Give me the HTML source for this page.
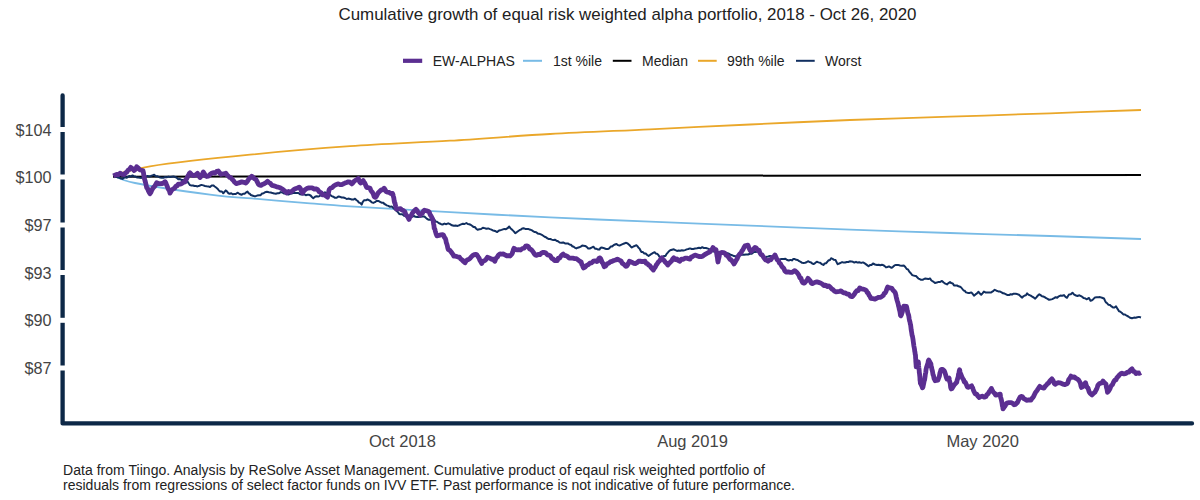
<!DOCTYPE html>
<html><head><meta charset="utf-8"><style>
html,body{margin:0;padding:0;background:#fff;width:1200px;height:500px;overflow:hidden}
svg{display:block;font-family:"Liberation Sans",sans-serif}
</style></head><body>
<svg width="1200" height="500" viewBox="0 0 1200 500">
<rect width="1200" height="500" fill="#fff"/>
<text x="627.5" y="20.2" text-anchor="middle" font-size="17" textLength="578" lengthAdjust="spacingAndGlyphs" fill="#222">Cumulative growth of equal risk weighted alpha portfolio, 2018 - Oct 26, 2020</text>
<line x1="403.0" y1="60.8" x2="422.2" y2="60.8" stroke="#5b2e91" stroke-width="4.2"/>
<text x="432.7" y="66" font-size="14" fill="#222">EW-ALPHAS</text>
<line x1="523.0" y1="60.8" x2="542.0" y2="60.8" stroke="#78bbe6" stroke-width="2"/>
<text x="553.0" y="66" font-size="14" fill="#222">1st %ile</text>
<line x1="612.8" y1="60.8" x2="631.5" y2="60.8" stroke="#000" stroke-width="2"/>
<text x="642.0" y="66" font-size="14" fill="#222">Median</text>
<line x1="698.0" y1="60.8" x2="716.7" y2="60.8" stroke="#eaa72a" stroke-width="2"/>
<text x="727.0" y="66" font-size="14" fill="#222">99th %ile</text>
<line x1="796.0" y1="60.8" x2="814.7" y2="60.8" stroke="#112f60" stroke-width="2"/>
<text x="825.0" y="66" font-size="14" fill="#222">Worst</text>
<path d="M62.6,95.5 L62.6,423.4 L1192,423.4" fill="none" stroke="#0d2847" stroke-width="4.3" stroke-linecap="round" stroke-linejoin="round"/>
<rect x="58" y="127.0" width="9" height="5" fill="#fff"/>
<text x="51.5" y="135.6" text-anchor="end" font-size="16.2" fill="#444">$104</text>
<rect x="58" y="174.5" width="9" height="5" fill="#fff"/>
<text x="51.5" y="183.1" text-anchor="end" font-size="16.2" fill="#444">$100</text>
<rect x="58" y="222.5" width="9" height="5" fill="#fff"/>
<text x="51.5" y="231.1" text-anchor="end" font-size="16.2" fill="#444">$97</text>
<rect x="58" y="270.0" width="9" height="5" fill="#fff"/>
<text x="51.5" y="278.6" text-anchor="end" font-size="16.2" fill="#444">$93</text>
<rect x="58" y="317.8" width="9" height="5" fill="#fff"/>
<text x="51.5" y="326.4" text-anchor="end" font-size="16.2" fill="#444">$90</text>
<rect x="58" y="365.5" width="9" height="5" fill="#fff"/>
<text x="51.5" y="374.1" text-anchor="end" font-size="16.2" fill="#444">$87</text>
<text x="402.5" y="446.8" text-anchor="middle" font-size="16.5" fill="#444">Oct 2018</text>
<text x="692.5" y="446.8" text-anchor="middle" font-size="16.5" fill="#444">Aug 2019</text>
<text x="982.7" y="446.8" text-anchor="middle" font-size="16.5" fill="#444">May 2020</text>
<path d="M113.0,175.5 C119.2,174.0 127.2,169.8 150.0,166.3 C172.8,162.8 216.7,158.0 250.0,154.7 C283.3,151.3 316.7,148.5 350.0,146.2 C383.3,143.9 416.7,142.7 450.0,140.7 C483.3,138.7 516.7,135.9 550.0,134.0 C583.3,132.1 616.7,130.9 650.0,129.3 C683.3,127.7 716.7,126.0 750.0,124.5 C783.3,123.0 816.7,121.3 850.0,120.0 C883.3,118.7 916.7,117.8 950.0,116.7 C983.3,115.6 1018.2,114.4 1050.0,113.3 C1081.8,112.2 1125.8,110.5 1141.0,110.0" fill="none" stroke="#eaa72a" stroke-width="1.8"/>
<path d="M113.0,175.0 C116.7,176.3 118.8,179.7 135.0,183.0 C151.2,186.3 189.2,191.9 210.0,194.6 C230.8,197.3 243.3,197.8 260.0,199.2 C276.7,200.6 295.0,202.1 310.0,203.3 C325.0,204.5 326.7,204.8 350.0,206.3 C373.3,207.8 416.7,210.3 450.0,212.2 C483.3,214.0 516.7,215.8 550.0,217.4 C583.3,219.0 616.7,220.2 650.0,221.6 C683.3,223.0 716.7,224.3 750.0,225.6 C783.3,226.9 816.7,228.4 850.0,229.6 C883.3,230.8 916.7,231.9 950.0,233.0 C983.3,234.1 1018.2,235.0 1050.0,236.0 C1081.8,237.0 1125.8,238.5 1141.0,239.0" fill="none" stroke="#78bbe6" stroke-width="1.8"/>
<path d="M113.0,176.7 L1141.0,175.0" fill="none" stroke="#000" stroke-width="2"/>
<path d="M115.0,176.7 L116.5,176.8 L118.0,177.6 L119.5,177.8 L121.0,178.5 L122.5,178.9 L123.9,177.8 L125.4,177.2 L126.8,177.7 L128.2,176.5 L129.6,176.0 L131.1,176.5 L132.5,175.4 L133.9,176.4 L135.4,176.6 L136.9,177.4 L138.3,177.5 L139.8,177.8 L141.3,177.9 L142.8,177.2 L144.3,177.2 L145.8,176.9 L147.5,175.9 L149.2,176.5 L150.8,176.0 L152.5,175.4 L154.2,174.8 L155.7,176.3 L157.2,176.2 L158.7,176.9 L160.2,177.5 L161.7,177.8 L163.4,177.8 L165.0,177.0 L166.7,177.2 L168.4,176.6 L170.0,177.0 L171.7,176.7 L173.4,176.4 L175.0,177.0 L176.7,177.7 L178.3,179.2 L180.0,179.1 L181.5,179.9 L183.0,180.0 L184.5,180.7 L186.0,181.1 L187.5,181.5 L188.8,183.5 L190.0,185.1 L191.5,185.6 L193.0,185.5 L194.5,186.0 L196.0,186.1 L197.5,186.4 L199.4,185.7 L201.4,184.9 L203.3,185.4 L205.0,186.0 L206.7,186.3 L208.3,186.4 L210.0,187.0 L211.7,185.5 L213.3,185.4 L214.7,186.5 L216.1,187.5 L217.5,188.7 L218.9,190.5 L220.4,191.6 L221.9,191.5 L223.3,193.3 L224.6,191.7 L225.8,190.4 L227.1,191.6 L228.3,193.2 L229.8,193.8 L231.2,193.2 L232.7,194.3 L234.2,194.1 L235.8,194.0 L237.5,192.7 L239.6,194.0 L241.7,194.8 L243.1,193.7 L244.6,193.7 L246.1,192.4 L247.5,191.6 L248.6,193.3 L249.7,193.7 L250.8,195.0 L252.9,195.7 L255.0,196.4 L257.1,195.6 L259.2,195.3 L260.6,195.2 L262.1,193.5 L263.6,193.3 L265.0,192.2 L266.9,191.8 L268.9,192.2 L270.8,192.5 L272.5,193.1 L274.1,193.4 L275.8,193.8 L277.5,193.3 L279.1,193.2 L280.8,192.1 L282.3,192.5 L283.8,193.4 L285.2,193.4 L286.7,194.0 L288.4,194.6 L290.0,193.8 L291.7,193.6 L293.4,192.7 L295.0,193.0 L296.7,193.0 L298.4,193.0 L300.0,194.3 L301.9,194.6 L303.9,194.2 L305.8,195.2 L307.5,194.8 L309.2,194.8 L310.6,195.5 L311.9,197.0 L313.3,198.2 L315.0,196.8 L316.6,196.3 L318.3,196.5 L319.6,196.1 L321.0,194.5 L322.3,193.9 L323.7,193.4 L325.0,192.3 L326.7,193.2 L328.3,193.9 L330.0,194.8 L331.7,196.1 L333.3,196.7 L335.0,197.8 L336.7,197.8 L338.3,196.5 L340.0,196.8 L341.7,197.5 L343.3,197.5 L345.0,198.0 L346.7,199.0 L348.4,198.6 L350.0,198.9 L351.7,199.5 L353.4,199.6 L355.0,198.7 L356.3,200.0 L357.7,201.0 L359.0,202.6 L360.4,203.1 L361.7,204.6 L362.5,202.4 L363.4,201.2 L364.2,200.2 L365.9,200.3 L367.5,199.5 L368.9,200.2 L370.4,201.0 L371.9,202.4 L373.3,202.9 L375.0,202.2 L376.7,200.8 L378.4,200.9 L380.0,201.8 L381.6,202.7 L383.3,202.7 L384.4,204.0 L385.6,204.5 L386.7,205.4 L388.4,205.9 L390.0,206.8 L391.7,206.4 L393.4,208.0 L395.0,209.6 L396.4,210.8 L397.8,212.0 L399.2,213.9 L400.6,214.2 L402.3,214.3 L404.0,215.7 L405.6,215.9 L407.3,216.3 L409.0,215.9 L410.6,216.7 L412.3,216.7 L413.9,216.0 L415.5,216.8 L417.2,217.0 L418.8,216.9 L420.7,216.7 L422.5,216.4 L424.4,216.5 L425.8,217.8 L427.2,219.0 L428.9,219.8 L430.7,219.6 L432.4,220.4 L434.2,219.7 L435.6,221.4 L437.0,221.8 L438.4,222.8 L439.8,223.5 L441.2,224.2 L442.6,224.5 L444.5,223.6 L446.3,224.2 L448.2,223.3 L450.1,224.2 L451.9,225.3 L453.8,225.8 L455.7,225.5 L457.5,225.9 L459.4,225.2 L461.1,224.4 L462.9,223.8 L464.6,224.0 L466.4,223.0 L467.8,224.0 L469.2,224.2 L470.6,224.7 L472.0,225.8 L473.4,226.9 L474.8,227.0 L476.2,228.7 L477.6,229.8 L479.4,229.3 L481.1,229.0 L482.9,227.7 L484.6,228.1 L486.4,228.8 L488.2,228.4 L490.0,229.1 L491.4,229.6 L492.9,230.4 L494.3,230.7 L495.8,231.3 L497.2,232.1 L498.6,230.7 L500.1,230.3 L501.5,229.9 L503.0,229.4 L504.4,228.9 L506.0,229.2 L507.6,228.2 L509.2,226.5 L510.4,228.2 L511.6,229.2 L512.8,230.4 L514.0,231.6 L515.2,233.2 L516.6,232.3 L518.0,231.2 L519.4,230.2 L520.8,229.6 L522.2,228.5 L523.6,228.3 L525.3,228.9 L527.0,229.0 L528.6,229.1 L530.3,229.7 L532.0,230.4 L533.4,231.3 L534.8,232.1 L536.2,232.3 L537.6,233.4 L539.0,233.7 L540.4,234.1 L541.8,234.8 L543.2,235.8 L544.6,236.8 L546.0,237.3 L547.4,238.4 L548.8,239.0 L550.3,239.0 L551.8,239.6 L553.3,240.1 L554.8,239.7 L556.4,240.7 L558.0,241.3 L559.6,242.5 L561.4,242.8 L563.2,242.4 L565.0,243.4 L566.8,243.5 L568.2,243.6 L569.5,244.5 L570.9,244.8 L572.3,246.3 L573.7,246.8 L575.0,247.8 L576.4,248.4 L577.8,247.7 L579.3,247.3 L580.7,246.6 L582.2,245.6 L583.6,245.7 L585.1,245.9 L586.7,246.9 L588.2,248.5 L589.8,248.5 L591.6,247.6 L593.4,246.7 L595.0,248.7 L596.6,248.8 L598.2,249.6 L599.4,249.6 L600.6,247.7 L601.8,247.6 L603.3,247.9 L604.8,248.5 L606.3,249.1 L607.8,249.1 L609.2,248.4 L610.7,246.5 L612.1,246.4 L613.6,245.2 L615.0,244.5 L616.5,244.0 L618.0,245.1 L619.5,245.6 L621.0,244.9 L622.6,244.2 L624.2,243.5 L625.8,242.8 L627.0,243.1 L628.2,243.9 L629.4,245.0 L630.6,246.4 L631.8,247.5 L633.4,246.5 L635.0,245.8 L636.6,245.3 L637.6,246.4 L638.5,247.7 L639.5,248.5 L640.4,250.2 L641.4,252.0 L642.8,252.1 L644.3,253.4 L645.7,253.5 L647.2,255.0 L648.6,255.9 L650.1,254.9 L651.6,253.8 L653.1,252.9 L654.6,252.2 L655.8,253.6 L657.0,253.7 L658.2,254.8 L659.4,256.6 L660.6,257.9 L662.2,256.8 L663.8,256.1 L665.4,255.9 L666.6,253.9 L667.8,252.6 L669.0,251.2 L670.2,250.3 L672.0,249.7 L673.8,249.3 L675.4,250.2 L677.0,250.9 L678.6,250.6 L680.2,250.8 L681.8,250.3 L683.4,250.6 L685.0,250.1 L686.7,249.4 L688.3,249.0 L690.0,248.4 L691.7,249.0 L693.3,248.9 L695.0,248.6 L697.0,248.3 L699.0,247.8 L700.7,248.2 L702.3,247.2 L704.0,248.1 L706.0,248.0 L708.0,248.6 L709.7,249.3 L711.3,250.6 L713.0,251.4 L714.7,251.4 L716.3,251.6 L718.0,252.3 L719.6,252.6 L721.2,252.3 L722.8,252.9 L724.4,253.4 L726.0,253.0 L727.5,253.2 L729.0,253.7 L730.5,254.8 L732.0,255.2 L734.0,256.1 L736.0,256.4 L737.5,255.4 L739.0,255.1 L740.5,255.0 L742.0,254.6 L744.0,254.7 L746.0,254.4 L748.0,254.5 L750.0,253.7 L751.7,253.8 L753.3,252.4 L755.0,251.9 L757.0,251.8 L759.0,250.5 L760.0,251.7 L761.0,253.7 L762.0,254.3 L763.0,255.5 L764.0,256.9 L765.0,258.2 L766.7,256.7 L768.3,256.5 L770.0,255.9 L772.0,256.5 L774.0,256.7 L775.4,257.8 L776.7,259.0 L778.0,259.0 L779.4,260.0 L780.9,259.1 L782.3,258.9 L783.8,258.9 L785.4,258.7 L787.1,260.0 L788.8,260.5 L790.4,259.9 L791.9,260.4 L793.3,259.1 L794.8,259.1 L796.3,259.8 L797.7,260.0 L799.2,261.2 L800.7,261.9 L802.1,262.8 L803.6,262.9 L805.1,262.8 L806.5,262.3 L808.0,261.2 L809.4,261.9 L810.8,262.2 L812.1,263.4 L813.5,264.1 L815.1,263.1 L816.8,261.7 L818.4,262.4 L820.1,262.8 L821.8,264.1 L823.4,265.0 L824.7,263.4 L826.0,263.3 L827.2,262.0 L828.5,260.3 L829.8,260.3 L831.1,258.3 L832.6,258.9 L834.0,259.8 L835.5,260.0 L836.2,261.4 L837.0,263.0 L837.7,264.2 L839.2,263.5 L840.6,262.8 L842.1,262.1 L843.6,262.6 L845.2,262.5 L846.7,262.0 L848.3,262.0 L849.8,261.3 L851.3,261.4 L852.9,261.8 L854.4,262.6 L856.0,261.8 L857.5,262.6 L859.3,262.3 L861.2,262.9 L863.0,262.4 L864.4,263.2 L865.8,264.1 L867.1,265.1 L868.5,266.2 L870.0,265.1 L871.5,265.0 L873.0,263.5 L875.0,264.5 L877.0,265.0 L878.7,264.7 L880.3,265.2 L882.0,264.8 L883.3,265.1 L884.7,266.1 L886.0,267.4 L887.5,267.0 L889.0,266.4 L891.5,267.8 L893.0,266.8 L894.5,265.4 L896.0,264.9 L898.0,264.9 L900.0,265.5 L902.0,265.8 L904.0,265.6 L905.3,267.0 L906.7,269.0 L908.0,269.4 L909.5,271.9 L911.0,273.5 L912.0,274.8 L913.0,275.4 L914.5,275.8 L916.0,276.1 L917.2,277.2 L918.5,278.6 L919.8,279.2 L921.0,279.8 L923.0,279.7 L925.0,278.5 L926.7,278.8 L928.3,279.1 L930.0,278.4 L931.2,280.3 L932.5,281.2 L933.8,282.0 L935.0,283.0 L936.8,282.6 L938.5,281.9 L940.2,281.9 L942.0,280.9 L943.7,282.5 L945.3,283.7 L947.0,284.4 L948.5,283.1 L950.0,282.1 L951.3,283.1 L952.7,283.4 L954.0,285.4 L955.5,285.6 L957.0,285.5 L958.5,286.3 L960.0,286.7 L961.2,287.5 L962.4,289.0 L963.6,290.5 L964.8,290.8 L966.0,292.4 L967.8,292.9 L969.5,293.0 L971.3,292.4 L972.6,293.7 L974.0,295.7 L975.5,294.4 L977.0,293.4 L978.5,291.8 L979.9,293.5 L981.2,294.8 L982.5,293.4 L983.9,291.5 L985.4,292.4 L986.9,292.5 L988.4,292.5 L991.1,292.5 L992.3,291.6 L993.5,290.8 L994.7,289.8 L996.5,290.7 L998.3,291.4 L1000.1,291.6 L1001.6,292.3 L1003.1,293.3 L1004.6,293.6 L1006.1,294.3 L1007.6,295.1 L1009.1,295.1 L1010.6,294.2 L1012.1,294.5 L1013.6,293.7 L1015.4,293.7 L1017.2,294.1 L1019.0,294.8 L1020.6,296.4 L1022.2,297.6 L1023.4,296.3 L1024.7,295.5 L1025.9,295.2 L1027.1,293.4 L1028.9,294.9 L1030.7,295.7 L1032.2,296.7 L1033.7,297.5 L1035.2,298.7 L1036.6,297.1 L1037.9,295.5 L1039.3,294.3 L1040.6,295.1 L1042.0,296.2 L1043.3,296.5 L1044.7,297.1 L1046.2,298.2 L1047.6,298.8 L1049.1,299.8 L1050.5,299.6 L1052.3,299.1 L1054.1,298.2 L1055.7,297.2 L1057.2,297.8 L1058.8,296.3 L1060.4,295.6 L1062.2,295.8 L1064.0,295.1 L1065.5,296.9 L1067.0,297.8 L1068.0,296.0 L1069.0,294.5 L1070.8,294.3 L1072.5,292.7 L1074.2,294.6 L1076.0,295.5 L1077.5,296.0 L1079.0,295.3 L1080.5,295.9 L1082.0,296.7 L1083.5,297.9 L1085.0,298.2 L1086.5,299.3 L1089.0,298.0 L1090.5,300.7 L1092.0,300.2 L1093.5,298.9 L1095.0,297.4 L1096.7,297.3 L1098.3,297.2 L1100.0,297.1 L1102.0,297.7 L1104.0,298.5 L1105.0,300.7 L1106.0,302.5 L1107.0,303.1 L1108.5,304.8 L1110.0,305.0 L1111.5,306.4 L1113.0,307.5 L1114.5,307.5 L1116.0,306.4 L1117.0,308.0 L1118.0,309.6 L1119.0,311.3 L1120.0,311.5 L1121.7,312.8 L1123.3,314.4 L1125.0,314.5 L1126.7,315.7 L1128.3,316.5 L1130.0,317.7 L1132.0,318.3 L1134.0,317.6 L1135.7,317.8 L1137.3,317.3 L1139.0,316.9 L1141.0,317.5" fill="none" stroke="#112f60" stroke-width="2" stroke-linejoin="round"/>
<path d="M113.3,176.0 L115.0,175.2 L116.7,174.4 L118.3,174.7 L120.0,173.2 L122.1,174.4 L124.2,174.6 L125.5,172.8 L126.8,172.1 L128.2,170.0 L129.5,169.3 L130.8,167.4 L132.5,168.7 L134.2,170.5 L135.4,169.5 L136.7,166.7 L138.3,168.1 L140.0,170.0 L142.9,170.5 L143.2,171.6 L143.5,172.9 L143.8,175.5 L144.1,175.7 L144.4,178.7 L144.7,179.4 L145.0,180.8 L145.6,182.8 L146.1,185.0 L146.7,187.8 L147.5,188.4 L148.3,190.7 L149.2,192.5 L150.0,193.7 L150.8,192.5 L151.7,190.3 L152.5,188.8 L153.3,187.6 L154.4,186.7 L155.6,184.7 L156.7,182.8 L158.4,183.5 L160.0,183.6 L161.7,183.6 L163.3,183.1 L165.0,181.7 L165.7,182.5 L166.4,184.6 L167.1,186.1 L167.9,188.2 L168.6,189.6 L169.3,190.4 L170.0,193.1 L171.7,190.0 L173.3,188.8 L174.6,188.3 L175.8,186.3 L177.1,185.8 L178.3,184.1 L180.0,184.2 L181.7,183.5 L183.3,182.4 L185.0,182.0 L185.8,179.6 L186.7,178.7 L187.5,177.0 L188.3,175.5 L189.2,173.7 L190.0,172.8 L191.7,174.7 L193.3,175.6 L195.4,175.0 L197.5,173.2 L198.8,175.9 L200.0,177.5 L201.1,176.4 L202.2,174.5 L203.3,172.0 L204.4,173.8 L205.6,175.9 L206.7,176.5 L208.4,176.1 L210.0,174.5 L211.7,173.3 L213.3,172.6 L215.0,173.1 L216.7,171.4 L218.3,171.0 L219.4,172.4 L220.6,174.3 L221.7,174.1 L223.8,173.9 L225.8,173.2 L227.1,175.0 L228.3,176.1 L229.6,177.4 L230.8,177.7 L232.1,179.2 L233.3,180.4 L234.7,182.3 L236.1,183.5 L237.5,183.3 L239.6,182.6 L241.7,181.9 L243.8,182.3 L245.8,183.1 L247.0,181.9 L248.2,180.0 L249.3,178.3 L250.5,177.6 L251.7,176.2 L253.1,177.3 L254.4,178.8 L255.8,179.2 L256.6,180.6 L257.5,182.4 L258.4,184.2 L259.2,184.9 L260.9,185.4 L262.5,184.4 L264.2,183.7 L265.8,182.7 L267.5,181.2 L268.9,182.5 L270.4,183.3 L271.9,185.4 L273.3,185.7 L275.0,186.1 L276.6,186.8 L278.3,187.1 L280.0,187.8 L281.3,188.4 L282.7,189.3 L284.0,190.5 L285.4,191.5 L286.7,192.9 L288.6,191.5 L290.6,192.0 L292.5,190.8 L294.2,189.2 L295.9,188.6 L297.5,187.9 L299.2,187.1 L300.3,188.4 L301.4,191.2 L302.5,193.1 L303.8,191.0 L305.0,189.8 L306.7,188.6 L308.3,188.0 L310.0,187.8 L312.1,187.9 L314.2,189.0 L315.9,188.8 L317.5,189.4 L319.2,191.7 L320.3,192.3 L321.4,193.0 L322.5,194.9 L324.2,194.6 L325.8,195.9 L327.5,197.2 L327.9,195.3 L328.4,193.4 L328.8,191.1 L329.2,189.6 L330.6,188.0 L332.1,187.7 L333.6,186.1 L335.0,185.2 L336.7,184.3 L338.4,183.9 L340.0,184.6 L341.7,184.7 L343.4,183.8 L345.0,183.1 L346.6,182.5 L348.3,181.8 L350.0,182.2 L351.7,183.9 L353.0,182.7 L354.3,181.1 L355.7,180.1 L357.0,179.5 L358.3,178.5 L359.1,180.6 L360.0,182.4 L360.8,183.0 L362.1,182.1 L363.3,180.6 L364.0,182.2 L364.7,182.9 L365.3,184.3 L366.0,186.0 L366.7,187.6 L368.4,187.6 L370.0,188.3 L370.8,190.2 L371.6,191.5 L372.5,192.4 L373.3,194.1 L374.1,196.5 L375.0,197.4 L375.8,196.9 L376.6,195.9 L377.5,194.2 L378.3,192.7 L379.8,191.3 L381.2,189.9 L382.7,189.9 L384.2,188.2 L385.3,190.2 L386.4,191.8 L387.5,192.1 L389.2,192.4 L390.8,193.5 L392.5,193.5 L392.9,194.4 L393.3,196.1 L393.8,197.9 L394.2,200.9 L394.6,202.6 L395.0,203.3 L395.7,206.6 L396.4,209.0 L398.5,208.8 L400.6,208.7 L402.0,210.1 L403.4,210.6 L404.8,211.6 L405.9,214.7 L406.9,215.8 L407.9,217.2 L409.0,219.4 L409.9,217.0 L410.9,216.0 L411.8,214.3 L413.2,211.9 L414.6,210.6 L416.0,209.3 L417.1,210.6 L418.1,212.5 L419.1,213.4 L420.2,215.1 L421.2,213.4 L422.3,213.4 L423.3,211.3 L424.4,210.2 L426.5,210.8 L428.6,211.6 L429.4,212.6 L430.3,215.0 L431.1,216.0 L432.0,217.8 L432.8,219.4 L433.1,220.3 L433.4,222.7 L433.6,223.9 L433.9,225.3 L434.2,228.3 L434.8,229.0 L435.3,231.1 L435.9,233.2 L436.4,234.6 L437.0,235.9 L438.9,235.5 L440.7,234.9 L442.6,234.6 L443.5,235.1 L444.5,237.5 L445.4,238.6 L445.9,240.3 L446.3,242.7 L446.8,243.9 L447.3,245.6 L447.7,247.6 L448.2,249.5 L449.6,250.1 L451.0,251.8 L451.9,253.0 L452.9,254.4 L453.8,256.1 L455.7,256.2 L457.5,256.8 L459.4,257.2 L460.8,259.1 L462.2,260.0 L463.6,261.5 L465.0,262.8 L466.4,260.5 L467.8,259.7 L469.2,259.1 L470.6,257.7 L472.5,255.7 L474.3,254.7 L476.2,254.3 L477.1,255.1 L478.1,256.8 L479.0,257.9 L479.9,260.3 L480.9,261.9 L481.8,263.4 L483.2,261.0 L484.6,260.7 L486.0,259.4 L487.4,257.3 L490.0,258.2 L491.6,259.3 L493.2,259.2 L494.8,261.3 L495.7,258.9 L496.6,257.6 L497.5,256.9 L498.4,255.1 L500.0,253.9 L501.6,254.1 L503.2,254.0 L505.0,254.9 L506.8,255.9 L508.4,255.7 L510.0,256.0 L511.6,254.4 L512.2,253.6 L512.8,251.8 L513.4,249.5 L514.0,248.3 L515.6,249.4 L517.2,249.8 L518.8,249.7 L520.6,250.0 L522.4,248.5 L524.0,248.2 L525.6,246.2 L527.2,245.8 L528.4,246.7 L529.6,249.0 L530.8,249.4 L532.0,250.4 L533.2,252.1 L534.4,254.1 L535.6,255.1 L536.8,255.4 L538.3,254.3 L539.8,254.7 L541.3,253.2 L542.8,252.5 L544.3,252.3 L545.8,253.0 L547.3,254.8 L548.8,255.1 L550.2,255.7 L551.7,258.3 L553.1,259.0 L554.6,260.5 L556.0,260.5 L557.2,260.6 L558.4,258.1 L559.6,258.2 L560.8,256.3 L562.0,254.9 L563.2,254.1 L564.7,255.7 L566.2,255.7 L567.7,256.6 L569.2,258.2 L571.0,258.1 L572.8,258.2 L574.6,258.6 L576.4,258.7 L578.0,259.9 L579.6,261.1 L581.2,262.1 L581.8,264.3 L582.4,265.1 L583.0,266.9 L583.6,267.9 L585.1,267.1 L586.7,265.4 L588.2,264.7 L589.8,263.2 L591.6,262.9 L593.4,261.1 L595.2,260.8 L597.0,261.6 L598.0,260.9 L599.0,258.2 L600.0,257.9 L600.7,258.8 L601.4,260.4 L602.1,262.4 L602.8,263.2 L603.5,264.9 L604.2,266.7 L605.7,266.0 L607.2,263.7 L608.7,263.3 L610.2,261.9 L612.0,261.4 L613.8,260.5 L615.6,260.0 L617.4,259.1 L619.2,260.1 L621.0,260.9 L622.2,263.3 L623.4,263.9 L624.6,265.1 L625.8,266.3 L626.7,266.2 L627.6,264.9 L628.5,263.2 L629.4,261.3 L630.9,261.8 L632.4,262.5 L633.9,263.3 L635.4,263.5 L637.0,262.7 L638.6,261.2 L640.2,261.1 L641.8,261.6 L643.4,261.3 L645.0,261.2 L646.2,263.5 L647.4,263.7 L648.6,265.0 L649.8,265.6 L651.0,267.4 L652.2,268.8 L653.4,270.0 L654.4,268.1 L655.3,267.1 L656.3,264.9 L657.2,263.9 L658.2,262.1 L659.4,261.2 L660.6,259.3 L661.8,257.8 L663.0,259.5 L664.2,260.6 L665.4,262.3 L666.6,263.4 L667.8,265.0 L669.0,263.5 L670.2,262.3 L671.4,261.2 L672.6,259.1 L673.8,257.7 L675.3,259.5 L676.8,258.9 L678.3,260.6 L679.8,261.2 L681.5,259.1 L683.3,259.3 L685.0,258.2 L686.7,258.1 L688.3,258.6 L690.0,259.1 L691.2,257.0 L692.5,256.6 L693.8,255.6 L695.0,255.1 L697.0,255.8 L699.0,256.5 L701.0,256.7 L702.7,256.2 L704.3,254.9 L706.0,253.9 L708.0,252.7 L710.0,251.8 L711.0,250.5 L712.0,249.4 L713.0,247.5 L714.5,249.4 L716.0,249.7 L716.3,251.5 L716.6,253.2 L716.9,255.0 L717.1,256.4 L717.4,257.4 L717.7,260.4 L718.0,262.0 L718.4,259.8 L718.8,258.1 L719.2,256.5 L719.6,253.7 L720.0,253.0 L721.7,252.5 L723.3,252.6 L725.0,253.2 L726.2,255.2 L727.5,255.6 L728.8,257.7 L730.0,259.4 L731.0,259.8 L732.0,260.9 L733.0,262.3 L734.0,263.9 L735.0,262.4 L736.0,260.6 L737.0,259.0 L738.0,256.5 L739.0,255.0 L740.0,253.7 L741.0,253.0 L742.0,250.8 L743.0,249.7 L744.0,247.3 L745.0,245.9 L748.0,245.2 L748.8,247.4 L749.5,248.9 L750.2,250.4 L751.0,251.3 L752.3,250.3 L753.7,248.9 L755.0,247.5 L756.3,248.0 L757.7,250.2 L759.0,250.1 L760.0,253.0 L761.0,254.6 L762.0,254.8 L763.2,256.7 L764.4,258.5 L765.6,259.9 L766.8,260.3 L768.0,261.2 L769.4,259.9 L770.8,259.9 L772.2,257.5 L773.6,256.9 L775.0,255.0 L776.1,257.4 L777.2,259.9 L778.3,260.4 L779.4,263.0 L780.5,263.9 L781.6,266.0 L782.7,267.4 L783.8,268.3 L784.9,271.0 L786.0,272.0 L788.2,271.8 L790.4,272.3 L791.9,272.4 L793.3,271.6 L794.8,270.6 L796.5,272.0 L798.1,274.0 L799.0,275.5 L799.9,277.9 L800.9,278.1 L801.8,280.9 L802.7,282.6 L803.6,283.0 L804.7,283.0 L805.8,281.4 L806.9,280.5 L808.0,278.3 L809.1,279.6 L810.2,280.9 L811.3,283.1 L812.4,283.7 L814.6,282.5 L816.8,281.8 L818.6,282.4 L820.5,283.0 L822.3,284.0 L823.9,285.6 L825.6,285.1 L827.2,286.6 L828.9,285.9 L830.3,287.2 L831.6,288.8 L833.0,289.6 L834.4,291.1 L836.0,291.9 L837.7,291.6 L839.4,291.3 L841.0,290.9 L842.5,292.1 L843.9,292.9 L845.4,293.0 L847.0,294.2 L848.7,294.1 L850.4,296.2 L852.0,296.7 L853.1,295.9 L854.2,294.4 L855.3,292.6 L856.8,290.7 L858.2,290.6 L859.7,287.9 L861.4,288.9 L863.0,289.1 L864.6,289.5 L866.3,290.6 L867.2,292.6 L868.1,293.0 L869.0,295.2 L869.9,296.3 L870.8,298.3 L872.9,298.7 L875.0,299.1 L876.9,298.1 L878.7,297.3 L880.6,297.4 L883.4,295.4 L884.2,293.4 L885.1,293.0 L885.9,291.6 L886.8,289.2 L887.6,287.1 L889.7,287.9 L891.8,288.4 L893.0,290.2 L894.1,291.2 L895.3,292.9 L895.8,294.8 L896.3,297.3 L896.9,299.7 L897.4,301.4 L897.8,302.6 L898.2,304.3 L898.6,306.2 L899.0,307.6 L899.3,309.3 L899.7,310.6 L900.1,312.6 L900.5,315.4 L900.9,315.8 L901.4,314.8 L901.8,313.3 L902.3,312.1 L902.8,309.4 L903.2,307.9 L903.7,306.2 L906.5,306.4 L906.9,308.2 L907.3,310.7 L907.7,312.3 L908.1,314.0 L908.4,314.4 L908.8,316.1 L909.2,318.9 L909.6,320.9 L910.0,322.0 L910.3,323.9 L910.6,324.8 L910.9,327.2 L911.2,329.9 L911.5,331.5 L911.8,333.4 L912.1,335.4 L912.4,336.0 L912.7,337.6 L913.0,339.4 L913.3,341.8 L913.6,343.9 L913.9,346.1 L914.2,347.6 L914.5,349.2 L914.7,351.1 L915.0,352.4 L915.2,354.3 L915.5,355.3 L915.6,358.1 L915.7,358.8 L915.8,361.5 L915.9,362.6 L916.0,363.7 L916.1,365.0 L916.2,366.8 L916.9,365.8 L917.6,364.3 L918.3,361.7 L918.5,363.3 L918.6,365.7 L918.8,367.5 L919.0,368.9 L919.2,370.3 L919.3,372.6 L919.5,373.4 L919.7,375.5 L919.9,377.5 L920.0,380.0 L920.2,381.1 L920.4,383.2 L921.1,384.4 L921.8,385.9 L922.5,387.8 L922.9,387.3 L923.3,385.2 L923.8,382.9 L924.2,380.7 L924.6,379.8 L924.8,378.4 L925.1,376.4 L925.3,374.5 L925.5,373.5 L925.8,372.3 L926.0,369.6 L926.5,367.5 L926.9,366.2 L927.4,364.6 L927.9,363.3 L928.3,360.8 L928.8,360.0 L929.5,361.5 L930.2,362.8 L930.9,363.9 L931.2,366.8 L931.6,367.4 L932.0,369.8 L932.3,370.5 L932.6,372.1 L933.0,374.6 L933.5,375.6 L934.0,378.4 L934.6,379.4 L935.1,380.7 L937.9,380.1 L938.4,378.7 L938.9,377.4 L939.4,376.1 L939.9,373.1 L940.4,371.8 L940.9,369.8 L941.4,369.4 L942.8,369.4 L944.2,370.7 L944.9,372.4 L945.6,374.7 L946.3,377.3 L947.0,379.0 L949.1,378.1 L949.4,380.2 L949.7,381.8 L950.0,382.5 L950.3,384.0 L950.6,386.9 L950.9,388.3 L951.2,388.9 L952.1,388.5 L953.1,386.6 L954.0,385.2 L955.4,383.7 L956.8,382.1 L957.1,380.2 L957.5,379.1 L957.9,377.6 L958.2,377.0 L958.5,374.1 L958.9,373.9 L959.2,371.1 L959.6,369.8 L960.1,372.3 L960.7,374.0 L961.2,375.1 L961.7,376.3 L962.6,378.4 L963.5,379.6 L964.3,381.9 L965.2,382.1 L966.2,384.2 L967.3,386.9 L968.3,387.3 L970.0,386.6 L971.6,385.8 L972.1,387.4 L972.7,387.9 L973.2,389.5 L973.8,391.2 L975.2,393.8 L976.5,394.0 L977.9,396.0 L979.3,397.5 L980.9,396.5 L982.6,396.2 L984.2,397.2 L985.9,396.5 L987.0,394.5 L988.1,393.8 L989.2,391.7 L990.3,390.3 L991.4,388.4 L992.5,390.9 L993.6,392.5 L994.7,393.4 L995.8,395.2 L996.9,395.0 L998.5,394.5 L1000.2,394.1 L1000.5,396.4 L1000.8,398.0 L1001.1,398.7 L1001.4,400.1 L1001.8,401.9 L1002.1,403.6 L1002.4,405.9 L1002.7,406.3 L1003.0,408.9 L1004.0,407.4 L1004.9,406.2 L1005.8,404.7 L1006.8,403.1 L1009.0,402.6 L1011.2,402.6 L1012.7,403.4 L1014.1,404.8 L1015.6,404.4 L1016.5,403.1 L1017.4,402.6 L1018.4,400.3 L1019.3,398.5 L1020.2,397.0 L1021.1,396.4 L1022.5,396.8 L1023.8,398.7 L1025.2,399.4 L1026.6,400.4 L1028.8,399.8 L1031.0,400.0 L1031.9,398.5 L1032.8,397.6 L1033.6,396.4 L1034.5,394.5 L1035.4,392.6 L1036.3,391.4 L1037.2,390.3 L1038.0,389.0 L1038.9,387.7 L1039.8,386.4 L1041.4,387.5 L1043.1,388.0 L1044.2,388.0 L1045.3,385.9 L1046.4,385.2 L1047.5,383.7 L1048.6,383.1 L1049.7,381.1 L1050.8,380.0 L1051.9,378.8 L1053.0,380.3 L1054.1,383.2 L1055.2,384.3 L1056.7,383.2 L1058.1,382.6 L1059.6,382.8 L1061.3,383.3 L1063.0,384.2 L1065.0,384.6 L1067.0,383.8 L1067.8,382.8 L1068.6,379.8 L1069.4,378.8 L1070.2,377.7 L1071.0,376.1 L1072.7,377.3 L1074.3,376.9 L1076.0,378.3 L1077.3,379.0 L1078.7,380.1 L1080.0,382.4 L1080.5,383.7 L1081.0,386.3 L1081.5,387.4 L1082.8,386.7 L1084.2,384.5 L1085.5,382.7 L1086.3,385.4 L1087.2,387.5 L1088.0,388.0 L1088.7,390.4 L1089.3,392.1 L1090.0,393.1 L1092.0,394.9 L1093.5,393.3 L1095.0,392.1 L1095.8,390.5 L1096.5,389.3 L1097.2,387.6 L1098.0,385.1 L1099.2,383.8 L1100.5,383.3 L1101.8,382.9 L1103.0,381.1 L1104.5,382.8 L1106.0,384.1 L1106.3,386.7 L1106.6,387.9 L1106.9,388.7 L1107.2,390.4 L1107.5,392.4 L1108.8,390.7 L1110.0,388.8 L1110.8,386.5 L1111.6,385.3 L1112.4,384.7 L1113.2,382.9 L1114.0,381.3 L1115.0,380.0 L1116.0,379.8 L1117.0,377.5 L1118.0,376.7 L1119.3,375.0 L1120.7,373.8 L1122.0,373.2 L1124.0,373.9 L1126.0,373.4 L1127.5,372.1 L1129.0,372.0 L1130.5,370.1 L1132.0,368.8 L1133.3,371.4 L1134.7,371.8 L1136.0,373.6 L1137.7,372.8 L1139.3,373.4 L1141.0,372.6" fill="none" stroke="#5b2e91" stroke-width="4.8" stroke-linejoin="round" stroke-linecap="butt"/>
<text x="63" y="475" font-size="14" textLength="702" lengthAdjust="spacing" fill="#222">Data from Tiingo. Analysis by ReSolve Asset Management. Cumulative product of eqaul risk weighted portfolio of</text>
<text x="63" y="490" font-size="14" textLength="732" lengthAdjust="spacing" fill="#222">residuals from regressions of select factor funds on IVV ETF. Past performance is not indicative of future performance.</text>
</svg>
</body></html>
